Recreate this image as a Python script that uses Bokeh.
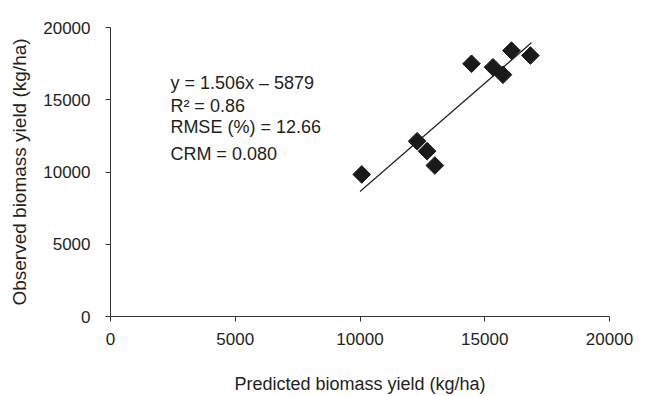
import math
from bokeh.plotting import figure
from bokeh.models import Range1d, ColumnDataSource, Label, FixedTicker
from bokeh.embed import file_html
from bokeh.resources import INLINE

# Data (kg/ha)
predicted = [10070, 12290, 12690, 13000, 14470, 15330, 15730, 16070, 16830]
observed = [9830, 12130, 11440, 10450, 17490, 17250, 16730, 18400, 18060]

# Fitted line endpoints (as drawn in reference)
trend_x = [10000, 16870]
trend_y = [8650, 18940]

ticks = [0, 5000, 10000, 15000, 20000]
annotations = ["y = 1.506x \u2013 5879", "R\u00b2 = 0.86", "RMSE (%) = 12.66", "CRM = 0.080"]
annot_x = 2400
annot_y = [16190, 14600, 13080, 11280]

FONT = "Liberation Sans"
TXT = "#231f20"

p = figure(width=644, height=396, output_backend="svg", toolbar_location=None,
           x_range=Range1d(0, 20000), y_range=Range1d(0, 20000),
           min_border_left=110, min_border_right=35, min_border_top=27, min_border_bottom=80)
p.outline_line_color = None
p.xgrid.visible = False
p.ygrid.visible = False
p.background_fill_color = "white"
p.border_fill_color = "white"

for ax in (p.xaxis[0], p.yaxis[0]):
    ax.ticker = FixedTicker(ticks=ticks)
    ax.minor_tick_line_color = None
    ax.axis_line_color = "#333333"
    ax.major_tick_line_color = "#333333"
    ax.major_tick_out = 5
    ax.major_tick_in = 0
    ax.major_label_text_font = FONT
    ax.major_label_text_font_size = "17px"
    ax.major_label_text_color = TXT
    ax.axis_label_text_font = FONT
    ax.axis_label_text_font_size = "18px"
    ax.axis_label_text_font_style = "normal"
    ax.axis_label_text_color = TXT

p.yaxis.axis_label_text_font_size = "19px"
p.xaxis.axis_label = "Predicted biomass yield (kg/ha)"
p.yaxis.axis_label = "Observed biomass yield (kg/ha)"
p.xaxis.major_label_standoff = 11
p.yaxis.major_label_standoff = 15
p.xaxis.axis_label_standoff = 26
p.yaxis.axis_label_standoff = 10

p.line(trend_x, trend_y, line_color="#222222", line_width=1.2)

src = ColumnDataSource(dict(x=predicted, y=observed))
p.scatter("x", "y", source=src, marker="square", size=12.5, angle=math.pi / 4,
          fill_color="#1a1a1a", line_color="#1a1a1a")

for t, yy in zip(annotations, annot_y):
    p.add_layout(Label(x=annot_x, y=yy, text=t, text_font=FONT, text_font_size="18px",
                       text_color=TXT, text_baseline="middle", text_align="left"))

open("out.html", "w").write(file_html(p, INLINE))
